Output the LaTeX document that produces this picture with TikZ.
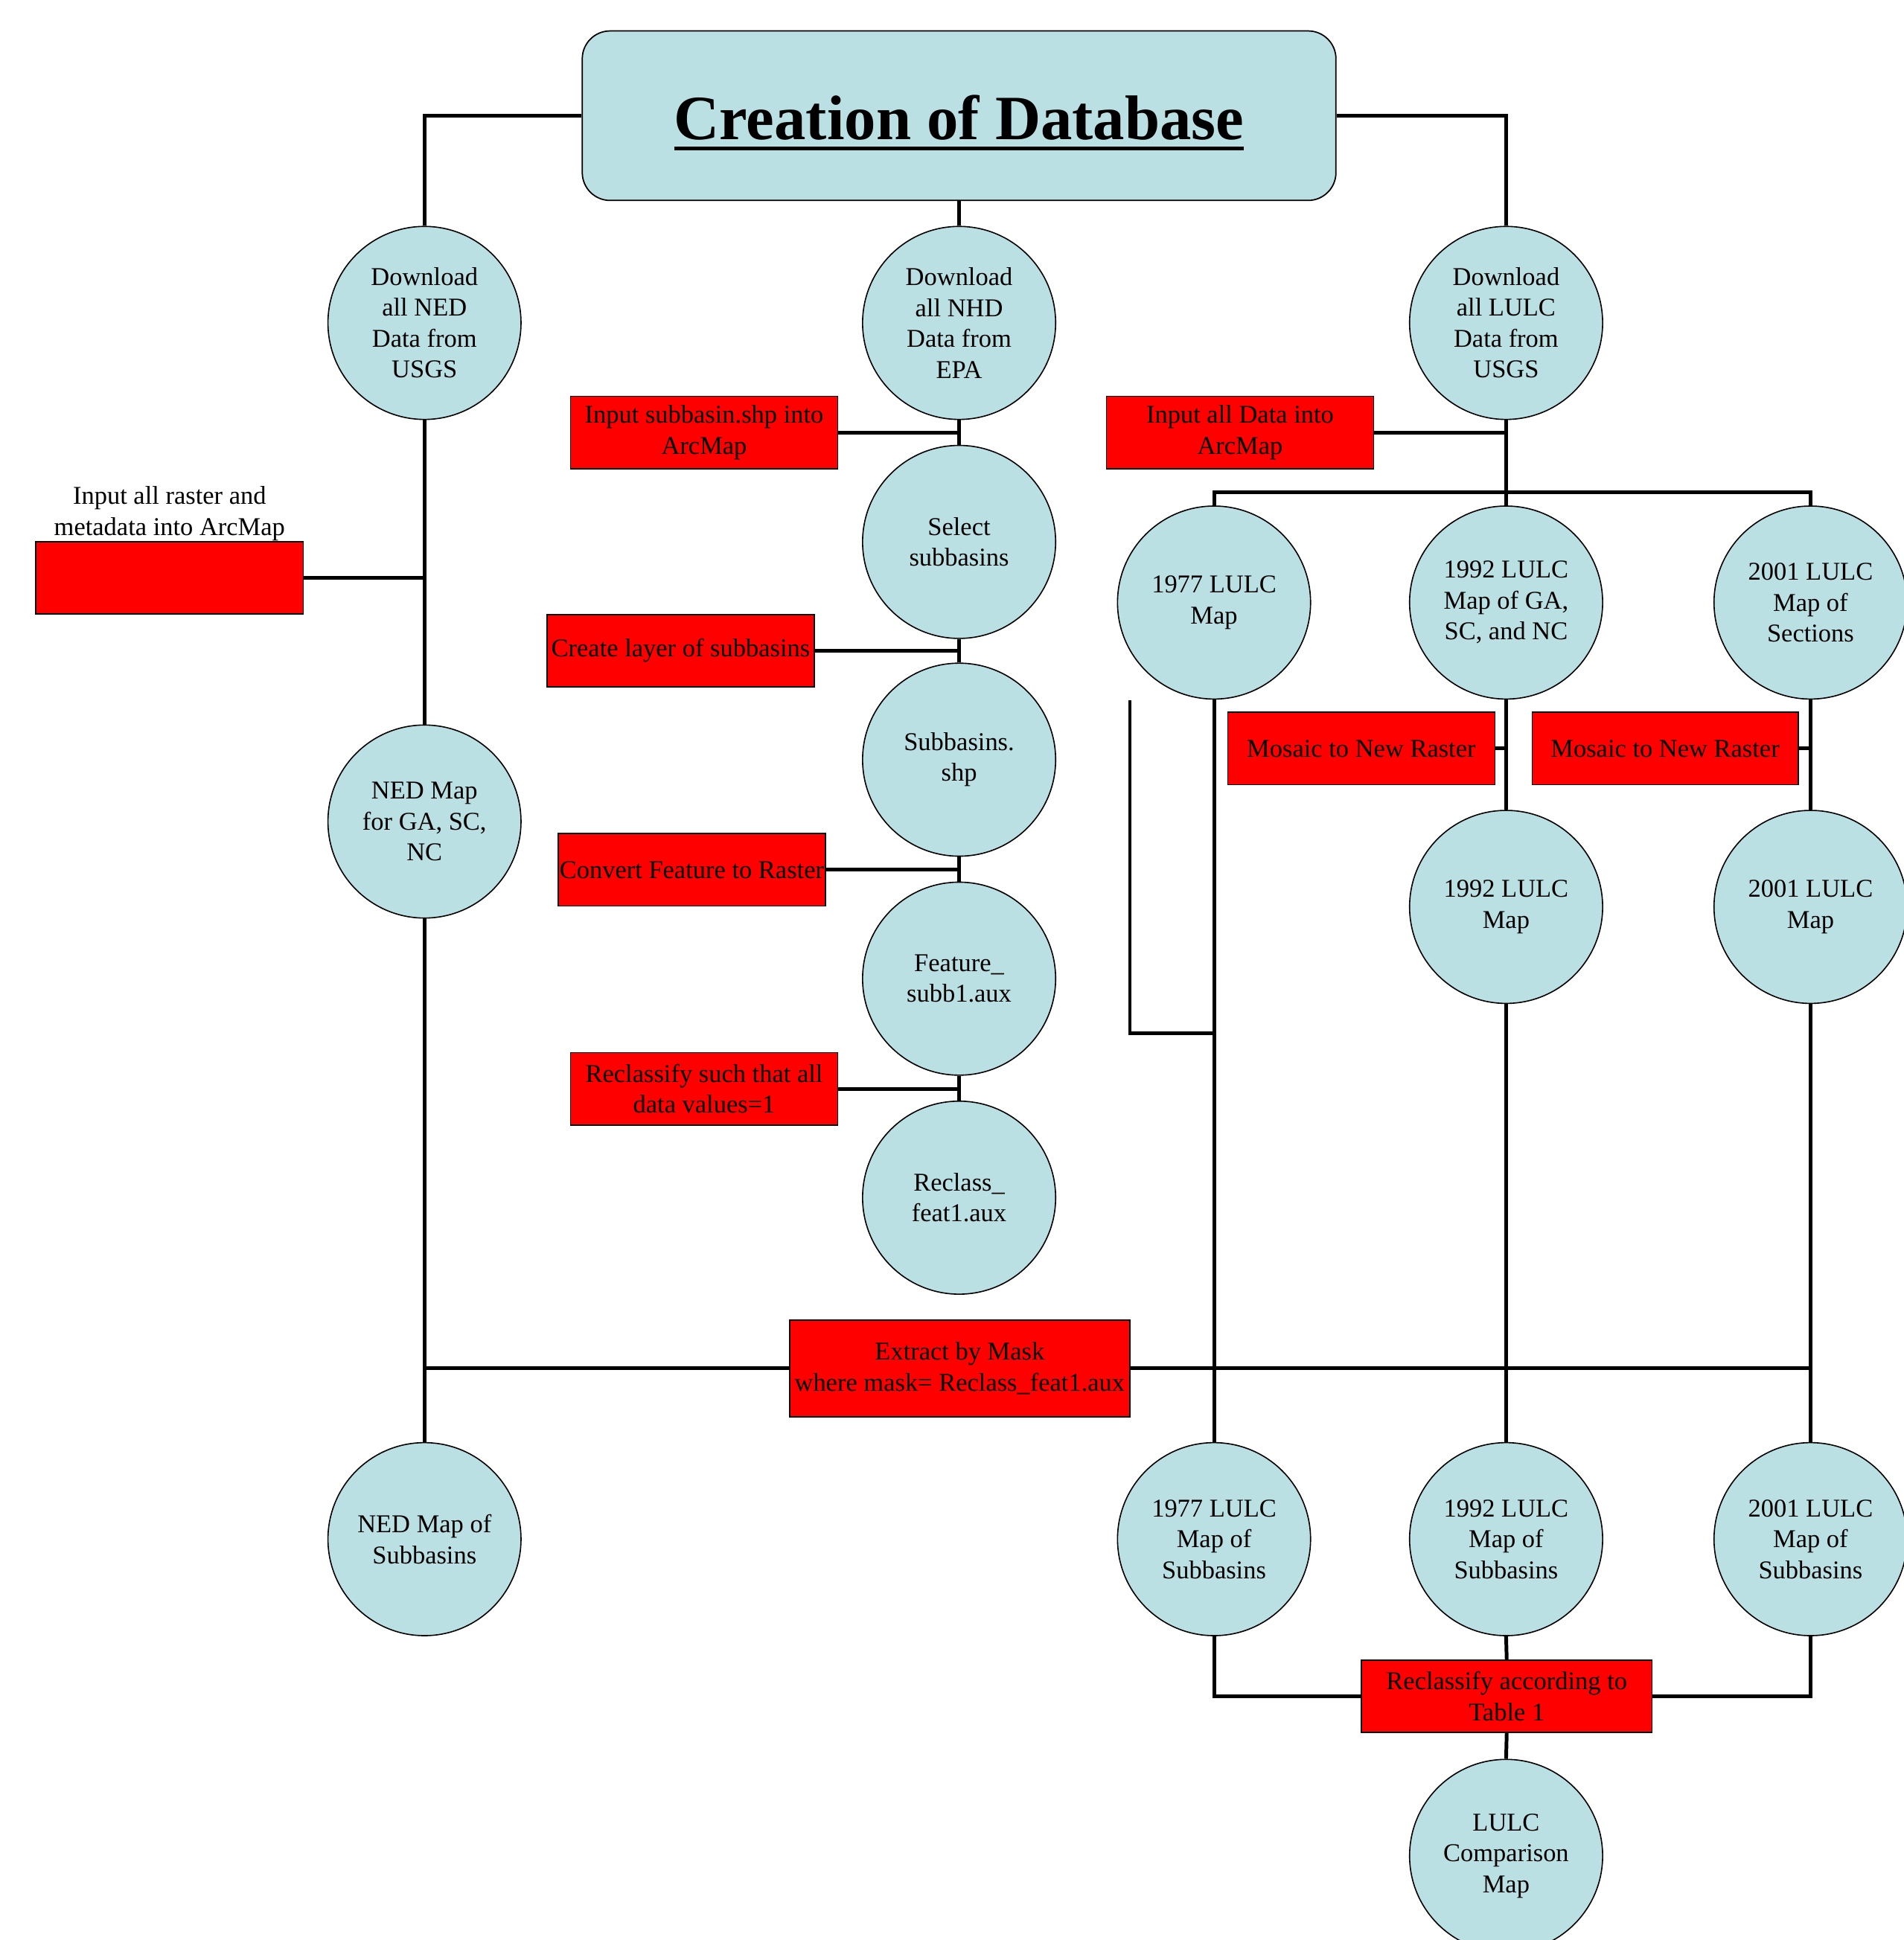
\documentclass[tikz,border=0pt]{standalone}
\usepackage{fontspec}
\setmainfont{Liberation Serif}
\usetikzlibrary{positioning}
\definecolor{paleblue}{RGB}{187,224,227}
\newcommand{\titleline}[1]{\raisebox{-0.38cm}[0pt][0pt]{\vtop{\hbox{#1}\kern3.1pt\hrule height 1.7pt}}}
\tikzset{
	datanode/.style={circle, draw, line width=0.55pt, fill=paleblue, minimum size=3.12cm, inner sep=0pt, align=center, font=\fontsize{11.8}{14.2}\selectfont},
	toolbox/.style={rectangle, draw, line width=0.55pt, fill=red, minimum width=4.32cm, minimum height=1.17cm, inner sep=0pt, align=center, font=\fontsize{11.8}{14.2}\selectfont},
	conn/.style={line width=1.7pt}
}
\begin{document}
\begin{tikzpicture}[x=0.2mm, y=-0.2mm]
			\useasboundingbox (0,0) rectangle (1538,1568);
			\node[draw, line width=0.6pt, fill=paleblue, rounded corners=0.45cm, minimum width=12.18cm, minimum height=2.74cm, inner sep=0pt, font=\fontsize{29}{34}\selectfont\bfseries] (title) at (775,93.5) {\titleline{Creation of Database}};
			\node[datanode] (ned1) at (343,261) {Download\\all NED\\Data from\\USGS};
			\node[datanode] (nhd1) at (775,261) {Download\\all NHD\\Data from\\EPA};
			\node[datanode] (lulc1) at (1217,261) {Download\\all LULC\\Data from\\USGS};
			\node[datanode] (sel) at (775,438) {Select\\subbasins};
			\node[datanode] (subshp) at (775,614) {Subbasins.\\shp};
			\node[datanode] (feat) at (775,791) {Feature\_\\subb1.aux};
			\node[datanode] (recl) at (775,968) {Reclass\_\\feat1.aux};
			\node[datanode] (ned2) at (343,664) {NED Map\\for GA, SC,\\NC};
			\node[datanode] (nedsub) at (343,1244) {NED Map of\\Subbasins};
			\node[datanode] (l77) at (981,487) {1977 LULC\\Map};
			\node[datanode] (l92) at (1217,487) {1992 LULC\\Map of GA,\\SC, and NC};
			\node[datanode] (l01) at (1463,487) {2001 LULC\\Map of\\Sections};
			\node[datanode] (l92b) at (1217,733) {1992 LULC\\Map};
			\node[datanode] (l01b) at (1463,733) {2001 LULC\\Map};
			\node[datanode] (s77) at (981,1244) {1977 LULC\\Map of\\Subbasins};
			\node[datanode] (s92) at (1217,1244) {1992 LULC\\Map of\\Subbasins};
			\node[datanode] (s01) at (1463,1244) {2001 LULC\\Map of\\Subbasins};
			\node[datanode] (comp) at (1217,1500) {LULC\\Comparison\\Map};
			\node[toolbox] (rasterbox) at (137,467) {};
			\node[above=0pt of rasterbox, inner sep=0pt, align=center, font=\fontsize{11.8}{14.2}\selectfont] (rasterlabel) {Input all raster and\\metadata into ArcMap};
			\node[toolbox] (inshp) at (569,349.5) {Input subbasin.shp into\\ArcMap};
			\node[toolbox] (indata) at (1002,349.5) {Input all Data into\\ArcMap};
			\node[toolbox] (mklayer) at (550,526) {Create layer of subbasins};
			\node[toolbox] (convert) at (559,703) {Convert Feature to Raster};
			\node[toolbox] (reclass1) at (569,880) {Reclassify such that all\\data values=1};
			\node[toolbox] (mosaic1) at (1100,605) {Mosaic to New Raster};
			\node[toolbox, minimum width=4.3cm] (mosaic2) at (1345.5,605) {Mosaic to New Raster};
			\node[toolbox, minimum width=5.5cm, minimum height=1.56cm] (extract) at (775.5,1106) {Extract by Mask\\where mask= Reclass\_feat1.aux};
			\node[toolbox, minimum width=4.7cm, minimum height=1.16cm] (reclass2) at (1217.5,1371) {Reclassify according to\\Table 1};
			\coordinate (split) at (1217,398);
			\coordinate (stray) at (913,566);
			\coordinate (bend) at (981,835);
			\draw[conn] (title.west) -| (ned1.north);
			\draw[conn] (title.east) -| (lulc1.north);
			\draw[conn] (title.south) -- (nhd1.north);
			\draw[conn] (ned1.south) -- (ned2.north);
			\draw[conn] (rasterbox.east) -- (rasterbox.east -| ned1.south);
			\draw[conn] (ned2.south) -- (nedsub.north);
			\draw[conn] (nhd1.south) -- (sel.north);
			\draw[conn] (inshp.east) -- (inshp.east -| nhd1.south);
			\draw[conn] (sel.south) -- (subshp.north);
			\draw[conn] (mklayer.east) -- (mklayer.east -| sel.south);
			\draw[conn] (subshp.south) -- (feat.north);
			\draw[conn] (convert.east) -- (convert.east -| subshp.south);
			\draw[conn] (feat.south) -- (recl.north);
			\draw[conn] (reclass1.east) -- (reclass1.east -| feat.south);
			\draw[conn] (lulc1.south) -- (l92.north);
			\draw[conn] (indata.east) -- (indata.east -| lulc1.south);
			\draw[conn] (l77.north) |- (split) -| (l01.north);
			\draw[conn] (l92.south) -- (l92b.north);
			\draw[conn] (mosaic1.east) -- (mosaic1.east -| l92.south);
			\draw[conn] (l01.south) -- (l01b.north);
			\draw[conn] (mosaic2.east) -- (mosaic2.east -| l01.south);
			\draw[conn] (l77.south) -- (s77.north);
			\draw[conn] (stray) |- (bend);
			\draw[conn] (l92b.south) -- (s92.north);
			\draw[conn] (l01b.south) -- (s01.north);
			\draw[conn] (extract.west) -- (extract.west -| ned2.south);
			\draw[conn] (extract.east) -- (extract.east -| l01b.south);
			\draw[conn] (s77.south) |- (reclass2.west);
			\draw[conn] (s01.south) |- (reclass2.east);
			\draw[conn] (s92.south) -- (reclass2.north);
			\draw[conn] (reclass2.south) -- (comp.north);
		\end{tikzpicture}
\end{document}
